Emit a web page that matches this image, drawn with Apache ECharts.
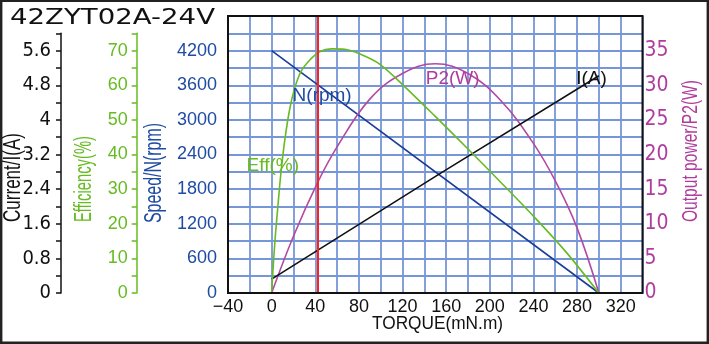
<!DOCTYPE html>
<html>
<head>
<meta charset="utf-8">
<script src="https://cdn.jsdelivr.net/npm/echarts@6/dist/echarts.min.js"></script>
<style>
  html, body { margin: 0; padding: 0; background: #fff; }
  #chart { width: 709px; height: 344px; }
</style>
</head>
<body>
<div id="chart"></div>
<script>
// Motor characteristic curves for the 42ZYT02A-24V
const modelName = '42ZYT02A-24V';

// Speed N (rpm) against torque (mN.m)
const torqueSpeed = [0, 300];
const speedRpm = [4200, 0];

// Current I (A)
const torqueCurrent = [0, 155, 300];
const currentA = [0.32, 2.77, 5.02];

// Efficiency (%)
const torqueEff = [0, 1.3, 3.4, 6, 8.3, 12, 16.5, 21, 27, 35, 44, 55, 67, 81, 99, 120, 150, 180, 210, 240, 270, 300];
const effPct    = [0, 7, 16.5, 26, 34, 44, 53, 59, 64, 67.3, 69.7, 70.5, 70.4, 69, 66.1, 60.2, 51, 41.6, 32, 22.2, 11.8, 0];

// Output power P2 (W)
const torqueP2 = [0, 20, 42, 60, 90, 120, 150, 180, 210, 240, 261, 280, 300];
const p2W      = [0, 8.2, 15.9, 21.1, 28, 31.7, 33.1, 31.7, 27.8, 21.6, 15.9, 9.4, 0];

// Rated torque marker (mN.m)
const ratedTorque = 42.5;

// Axis ranges
const torqueRange = [-40, 340];
const speedRange = [0, 4800];
const powerRange = [0, 40];
const currentRange = [0, 6.0];
const effRange = [0, 75];

const zip = (xs, ys) => xs.map((x, i) => [x, ys[i]]);

const FONT = "'Liberation Sans', Arial, sans-serif";
const NARROW = "'Liberation Sans Narrow', 'Arial Narrow', 'DejaVu Sans Condensed', sans-serif";
const GRIDC = '#7696d8';
const BLUE = '#1f4ba3';
const BLUE_LINE = '#1a3d98';
const GREEN = '#66bb22';
const PURPLE = '#b03d9e';
const PURPLE_LINE = '#b14aa6';
const RED = '#ff1f1f';

const G = { left: 228, right: 66.5, top: 16, bottom: 51 };
const plotH = 344 - G.top - G.bottom;
const step = plotH / 16;   // height of one 300 rpm row

const near = (v, m) => Math.abs(v / m - Math.round(v / m)) < 1e-6;

const chart = echarts.init(document.getElementById('chart'), null, { renderer: 'canvas' });

const option = {
  animation: false,
  backgroundColor: '#fff',
  grid: [
    { left: G.left, right: G.right, top: G.top, bottom: G.bottom, containLabel: false, outerBoundsMode: 'none' },
    { left: G.left, right: G.right, top: G.top + step, bottom: G.bottom, containLabel: false, outerBoundsMode: 'none' }
  ],
  xAxis: [
    {
      type: 'value', gridIndex: 0, min: torqueRange[0], max: torqueRange[1], interval: 20,
      axisLine: { show: false }, axisTick: { show: false },
      splitLine: { show: true, lineStyle: { color: GRIDC, width: 1.8 } },
      axisLabel: {
        margin: 5, color: '#111', fontSize: 18, fontFamily: FONT,
        formatter: v => (near(v, 40) && v < 330) ? (v < 0 ? '\u2212' + Math.abs(v) : String(v)) : ''
      }
    },
    {
      type: 'value', gridIndex: 1, min: torqueRange[0], max: torqueRange[1], show: false,
      splitLine: { show: false }
    }
  ],
  yAxis: [
    {
      // Speed, rpm
      type: 'value', gridIndex: 0, position: 'left', min: speedRange[0], max: speedRange[1], interval: 300,
      axisLine: { show: false }, axisTick: { show: false },
      splitLine: { show: true, lineStyle: { color: GRIDC, width: 1.8 } },
      axisLabel: {
        margin: 11, color: BLUE, fontSize: 18, fontFamily: FONT,
        formatter: v => (near(v, 600) && v < 4500) ? String(v) : ''
      }
    },
    {
      // Output power, W
      type: 'value', gridIndex: 0, position: 'right', min: powerRange[0], max: powerRange[1], interval: 5,
      axisLine: { show: false }, axisTick: { show: false }, splitLine: { show: false },
      axisLabel: {
        margin: 2, color: PURPLE, fontSize: 21, fontFamily: NARROW,
        formatter: v => v < 37 ? String(v) : ''
      }
    },
    {
      // Current, A
      type: 'value', gridIndex: 1, position: 'left', offset: 167,
      min: currentRange[0], max: currentRange[1], interval: 0.4,
      axisLine: { show: true, onZero: false, lineStyle: { color: '#111', width: 1.5 } },
      axisTick: { show: true, length: 5, lineStyle: { color: '#111', width: 1.5 } },
      splitLine: { show: false },
      axisLabel: {
        margin: 10, color: '#111', fontSize: 20, fontFamily: NARROW,
        formatter: v => (near(v, 0.8) && v < 5.9) ? String(+v.toFixed(1)) : ''
      }
    },
    {
      // Efficiency, %
      type: 'value', gridIndex: 1, position: 'left', offset: 91.3,
      min: effRange[0], max: effRange[1], interval: 5,
      axisLine: { show: true, onZero: false, lineStyle: { color: GREEN, width: 1.5 } },
      axisTick: { show: true, length: 5, lineStyle: { color: GREEN, width: 1.5 } },
      splitLine: { show: false },
      axisLabel: {
        margin: 9, color: GREEN, fontSize: 18, fontFamily: FONT,
        formatter: v => (near(v, 10) && v < 72) ? String(v) : ''
      }
    }
  ],
  series: [
    {
      name: 'N(rpm)', type: 'line', xAxisIndex: 0, yAxisIndex: 0,
      data: zip(torqueSpeed, speedRpm), showSymbol: false, z: 3,
      lineStyle: { color: BLUE_LINE, width: 1.6 },
      markLine: {
        silent: true, symbol: 'none', label: { show: false },
        lineStyle: { color: RED, width: 2, type: 'solid' },
        data: [{ xAxis: ratedTorque }]
      }
    },
    {
      name: 'P2(W)', type: 'line', xAxisIndex: 0, yAxisIndex: 1,
      data: zip(torqueP2, p2W), showSymbol: false, smooth: 0.4, z: 3,
      lineStyle: { color: PURPLE_LINE, width: 1.6 }
    },
    {
      name: 'I(A)', type: 'line', xAxisIndex: 1, yAxisIndex: 2,
      data: zip(torqueCurrent, currentA), showSymbol: false, z: 3,
      lineStyle: { color: '#111', width: 1.6 }
    },
    {
      name: 'Eff(%)', type: 'line', xAxisIndex: 1, yAxisIndex: 3,
      data: zip(torqueEff, effPct), showSymbol: false, smooth: 0.3, z: 3,
      lineStyle: { color: GREEN, width: 1.6 }
    }
  ]
};

chart.setOption(option);

// Width of a string in a given font, used to squeeze the condensed captions
const ctx = document.createElement('canvas').getContext('2d');
function textScale(text, size, family, target) {
  ctx.font = size + 'px ' + family;
  return target / ctx.measureText(text).width;
}

function caption(text, cx, cy, size, family, color, length, rotate) {
  const s = textScale(text, size, family, length);
  return {
    type: 'text', x: cx, y: cy, z: 50,
    rotation: rotate ? Math.PI / 2 : 0,
    scaleX: s, scaleY: 1,
    style: { text, fontSize: size, fontFamily: family, fill: color, align: 'center', verticalAlign: 'middle' }
  };
}

// Plot frame from the axis extents
const p0 = chart.convertToPixel({ gridIndex: 0 }, [torqueRange[0], speedRange[0]]);
const p1 = chart.convertToPixel({ gridIndex: 0 }, [torqueRange[1], speedRange[1]]);

// Curve names placed in torque / rpm coordinates
const curveNames = [
  { text: 'N(rpm)', at: [46.3, 3412], color: BLUE },
  { text: 'Eff(%)', at: [1.1, 2211], color: GREEN },
  { text: 'P2(W)', at: [166, 3708], color: PURPLE },
  { text: 'I(A)', at: [293.3, 3708], color: '#111' }
];

const graphics = [
  {
    type: 'rect', z: 40, silent: true,
    shape: { x: p0[0], y: p1[1], width: p1[0] - p0[0], height: p0[1] - p1[1] },
    style: { fill: 'none', stroke: '#111', lineWidth: 2 }
  },
  {
    type: 'rect', z: 40, silent: true,
    shape: { x: 1.2, y: 0.8, width: 706.6, height: 342 },
    style: { fill: 'none', stroke: '#222', lineWidth: 2.4 }
  },
  // model title
  (() => {
    const s = textScale(modelName, 21, "'DejaVu Sans', sans-serif", 205);
    return {
      type: 'text', x: 10, y: 19, z: 50, scaleX: s, scaleY: 1,
      style: { text: modelName, fontSize: 21, fontFamily: "'DejaVu Sans', sans-serif", fill: '#111', align: 'left', verticalAlign: 'middle' }
    };
  })(),
  caption('Current/I(A)', 14, 177.5, 23, FONT, '#111', 89, true),
  caption('Efficiency(%)', 85, 179, 23, FONT, GREEN, 86, true),
  caption('Speed/N(rpm)', 155, 173, 23, FONT, BLUE, 100, true),
  caption('Output power/P2(W)', 691, 151, 22, FONT, PURPLE, 142, true),
  caption('TORQUE(mN.m)', 437.5, 324, 18, FONT, '#111', 131, false)
];

curveNames.forEach(c => {
  const p = chart.convertToPixel({ gridIndex: 0 }, c.at);
  graphics.push({
    type: 'text', x: p[0], y: p[1], z: 45,
    style: { text: c.text, fontSize: 19, fontFamily: FONT, fill: c.color, align: 'center', verticalAlign: 'middle' }
  });
});

chart.setOption({ graphic: graphics });
</script>
</body>
</html>
